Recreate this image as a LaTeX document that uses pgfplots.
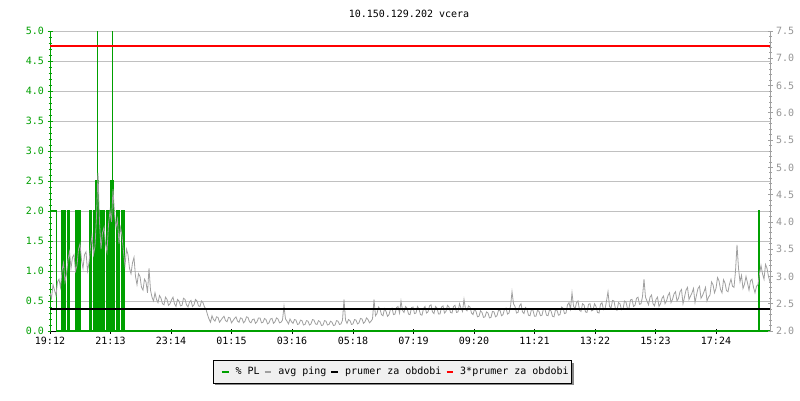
\documentclass[border=0pt]{standalone}
\usepackage{pgfplots}
\pgfplotsset{compat=1.18}
\usepackage{fontspec}
\setmainfont{DejaVu Sans Mono}
\usetikzlibrary{shadows}
\makeatletter
\tikzset{no preactions/.code={\let\tikz@preactions\pgfutil@empty}}
\makeatother
\definecolor{plgreen}{RGB}{0,160,0}
\definecolor{pinggray}{RGB}{160,160,160}
\definecolor{gridgray}{RGB}{192,192,192}
\definecolor{rlabgray}{RGB}{150,150,150}
\definecolor{leggray}{RGB}{240,240,240}
\definecolor{shadowgray}{RGB}{136,136,136}

\pgfplotstableread{
m v
0 0
1.4 2
12.6 0
23.4 2
24.9 0
26.4 2
27.9 0
29.4 2
30.6 0
35.4 2
36.8 0
37.4 2
38.6 0
51.4 2
52.9 0
54.4 2
55.9 0
57.4 2
58.9 0
60 2
61.4 0
78.6 2
80.1 0
81.6 2
83.4 0
86.6 2
88.1 0
89.3 2
90.6 0
92 2.5
93.2 0
93.8 2.5
94.4 6
95.0 2.5
95.8 0
96.4 2
97.4 0
99.4 2
100.9 0
102.4 2
103.9 0
105.4 2
106.7 0
107.3 2
108 0
112.6 2
114.1 0
115.6 2
117.1 0
118.6 2
120.1 0
120.8 2
122 2.5
123.2 0
123.8 2.5
124.4 6
125.0 2.5
125.8 0
126.6 2
128 0
128.6 2
129.4 0
132.6 2
134.1 0
135.6 2
137.1 0
137.8 2
138.6 0
142.6 2
144.1 0
145.6 2
147.1 0
147.6 2
148 0
1417 2
1418.4 0
1440 0
}\pltable

\pgfplotstableread{
m v
0 2.70
3 2.60
6 2.85
9 2.75
12 2.65
15 2.90
18 2.95
21 2.80
24 3.10
27 3.25
30 2.90
33 3.05
36 3.30
39 3.45
42 3.15
45 3.35
48 3.40
51 3.10
54 3.20
57 3.50
60 3.60
63 3.30
66 3.15
69 3.40
72 3.45
75 3.10
78 3.25
81 3.55
84 3.75
87 3.40
90 3.55
93 4.10
96 4.90
99 4.00
102 3.50
105 3.80
108 3.90
111 3.60
114 3.45
117 3.95
120 4.20
123 4.00
126 4.60
129 4.15
132 3.90
135 4.05
138 3.60
141 3.90
144 3.75
147 3.45
150 3.20
153 3.50
156 3.40
159 3.15
162 3.05
165 3.25
168 3.35
171 3.00
174 2.85
177 3.05
180 3.00
183 2.80
186 2.75
189 2.95
192 2.90
195 2.70
198 3.15
201 2.75
204 2.62
207 2.55
210 2.70
213 2.58
216 2.52
219 2.65
222 2.60
225 2.50
228 2.48
231 2.62
234 2.58
237 2.47
240 2.50
243 2.57
246 2.62
249 2.50
252 2.45
255 2.58
258 2.55
261 2.46
264 2.47
267 2.60
270 2.58
273 2.48
276 2.44
279 2.53
282 2.56
285 2.45
288 2.48
291 2.58
294 2.55
297 2.46
300 2.45
303 2.55
306 2.52
309 2.44
312 2.40
315 2.30
318 2.22
321 2.16
324 2.28
327 2.21
330 2.18
333 2.26
336 2.25
339 2.16
342 2.20
345 2.24
348 2.27
351 2.19
354 2.17
357 2.25
360 2.24
363 2.15
366 2.19
369 2.23
372 2.26
375 2.18
378 2.16
381 2.24
384 2.23
387 2.15
390 2.18
393 2.26
396 2.25
399 2.17
402 2.15
405 2.21
408 2.22
411 2.14
414 2.17
417 2.24
420 2.24
423 2.15
426 2.16
429 2.23
432 2.21
435 2.13
438 2.15
441 2.22
444 2.23
447 2.14
450 2.17
453 2.24
456 2.22
459 2.15
462 2.16
465 2.20
468 2.45
471 2.22
474 2.18
477 2.13
480 2.22
483 2.17
486 2.14
489 2.21
492 2.20
495 2.12
498 2.13
501 2.20
504 2.19
507 2.11
510 2.12
513 2.19
516 2.18
519 2.11
522 2.13
525 2.21
528 2.20
531 2.13
534 2.12
537 2.19
540 2.17
543 2.10
546 2.11
549 2.19
552 2.18
555 2.11
558 2.12
561 2.18
564 2.16
567 2.10
570 2.11
573 2.19
576 2.18
579 2.12
582 2.13
585 2.20
588 2.58
591 2.20
594 2.14
597 2.21
600 2.19
603 2.12
606 2.13
609 2.21
612 2.20
615 2.13
618 2.15
621 2.23
624 2.22
627 2.14
630 2.17
633 2.24
636 2.21
639 2.15
642 2.18
645 2.22
648 2.58
651 2.28
654 2.32
657 2.44
660 2.40
663 2.30
666 2.28
669 2.41
672 2.36
675 2.27
678 2.30
681 2.40
684 2.42
687 2.30
690 2.31
693 2.43
696 2.45
699 2.33
702 2.55
705 2.38
708 2.34
711 2.45
714 2.42
717 2.31
720 2.30
723 2.43
726 2.44
729 2.32
732 2.33
735 2.45
738 2.40
741 2.30
744 2.29
747 2.41
750 2.45
753 2.33
756 2.35
759 2.46
762 2.48
765 2.35
768 2.32
771 2.45
774 2.42
777 2.31
780 2.31
783 2.44
786 2.46
789 2.33
792 2.36
795 2.47
798 2.44
801 2.34
804 2.33
807 2.45
810 2.47
813 2.34
816 2.35
819 2.50
822 2.42
825 2.36
828 2.58
831 2.40
834 2.37
837 2.46
840 2.44
843 2.33
846 2.30
849 2.40
852 2.36
855 2.26
858 2.27
861 2.37
864 2.34
867 2.25
870 2.26
873 2.35
876 2.33
879 2.24
882 2.25
885 2.36
888 2.35
891 2.26
894 2.28
897 2.38
900 2.38
903 2.28
906 2.30
909 2.40
912 2.42
915 2.31
918 2.33
921 2.45
924 2.72
927 2.50
930 2.45
933 2.33
936 2.34
939 2.46
942 2.50
945 2.35
948 2.32
951 2.43
954 2.40
957 2.29
960 2.28
963 2.40
966 2.38
969 2.27
972 2.27
975 2.38
978 2.36
981 2.28
984 2.29
987 2.41
990 2.40
993 2.29
996 2.28
999 2.39
1002 2.37
1005 2.27
1008 2.26
1011 2.39
1014 2.38
1017 2.29
1020 2.30
1023 2.44
1026 2.42
1029 2.32
1032 2.33
1035 2.48
1038 2.52
1041 2.40
1044 2.70
1047 2.46
1050 2.40
1053 2.52
1056 2.55
1059 2.38
1062 2.36
1065 2.50
1068 2.48
1071 2.35
1074 2.34
1077 2.49
1080 2.50
1083 2.37
1086 2.38
1089 2.50
1092 2.45
1095 2.34
1098 2.33
1101 2.49
1104 2.52
1107 2.39
1110 2.40
1113 2.55
1116 2.72
1119 2.45
1122 2.42
1125 2.56
1128 2.55
1131 2.40
1134 2.38
1137 2.52
1140 2.50
1143 2.39
1146 2.40
1149 2.55
1152 2.53
1155 2.41
1158 2.42
1161 2.57
1164 2.58
1167 2.45
1170 2.47
1173 2.60
1176 2.62
1179 2.49
1182 2.50
1185 2.63
1188 2.95
1191 2.62
1194 2.55
1197 2.48
1200 2.62
1203 2.66
1206 2.50
1209 2.46
1212 2.58
1215 2.62
1218 2.45
1221 2.50
1224 2.60
1227 2.64
1230 2.50
1233 2.55
1236 2.65
1239 2.70
1242 2.52
1245 2.58
1248 2.68
1251 2.72
1254 2.55
1257 2.60
1260 2.72
1263 2.76
1266 2.50
1269 2.62
1272 2.75
1275 2.80
1278 2.58
1281 2.64
1284 2.70
1287 2.78
1290 2.52
1293 2.66
1296 2.78
1299 2.82
1302 2.60
1305 2.65
1308 2.72
1311 2.80
1314 2.55
1317 2.62
1320 2.66
1323 2.90
1326 2.85
1329 2.70
1332 2.78
1335 2.98
1338 2.92
1341 2.76
1344 2.70
1347 2.94
1350 2.88
1353 2.74
1356 2.72
1359 2.86
1362 2.95
1365 2.82
1368 2.80
1371 3.10
1374 3.58
1377 3.15
1380 2.90
1383 3.02
1386 2.78
1389 2.86
1392 3.00
1395 2.88
1398 2.75
1401 2.92
1404 2.95
1407 2.80
1410 2.70
1413 2.82
1416 2.85
1419 3.05
1422 3.20
1425 3.05
1428 2.95
1431 3.22
1434 3.15
1437 3.00
1440 2.90
}\pingtable

\pgfplotsset{
  common/.style={
    at={(50pt,69pt)}, anchor=south west,
    scale only axis, width=720pt, height=300pt,
    xmin=0, xmax=1440,
    tick align=inside,
    major tick length=5pt, minor tick length=3pt,
    tick label style={font=\fontsize{10}{12}\selectfont},
    /pgf/number format/assume math mode=true,
    /pgf/number format/.cd, fixed, fixed zerofill, precision=1,
  },
}

\begin{document}
\begin{tikzpicture}[x=1pt,y=1pt]
\path[use as bounding box, fill=white] (0,0) rectangle (800,400);
\node[font=\fontsize{10}{12}\selectfont] at (409,386) {10.150.129.202 vcera};

\begin{axis}[common,
  ymin=0, ymax=5,
  axis x line=bottom, axis y line=left,
  x axis line style={-, black, line width=1pt},
  y axis line style={-, plgreen, line width=1pt},
  xtick={0,121,242,363,484,606,727,848,969,1090,1211,1332},
  xticklabels={19:12,21:13,23:14,01:15,03:16,05:18,07:19,09:20,11:21,13:22,15:23,17:24},
  xtick style={black, line width=0.8pt},
  ytick={0,0.5,...,5},
  minor y tick num=4,
  ytick style={plgreen, line width=0.8pt},
  yticklabel style={text=plgreen},
  ymajorgrids,
  major grid style={gridgray, line width=1pt},
]
\addplot[const plot, plgreen, line width=1.2pt] table[x=m, y=v] {\pltable};
\end{axis}

\begin{axis}[common,
  ymin=2, ymax=7.5,
  axis x line=none, axis y line=right,
  y axis line style={-, pinggray, line width=1pt},
  ytick={2,2.5,...,7.5},
  minor y tick num=4,
  ytick style={pinggray, line width=0.8pt},
  yticklabel style={text=rlabgray},
]
\addplot[pinggray, line width=0.8pt] table[x=m, y=v] {\pingtable};
\end{axis}

\begin{axis}[common,
  ymin=0, ymax=5,
  axis lines=none, ticks=none,
  legend columns=4,
  legend style={at={(0.476,-0.0967)}, anchor=north,
    fill=leggray, draw=black, line width=1pt,
    font=\fontsize{10}{12}\selectfont,
    inner xsep=3.4pt, inner ysep=6pt,
    nodes={inner xsep=0pt, inner ysep=0pt, text height=8pt, text depth=2.5pt},
    /tikz/every odd column/.append style={column sep=6pt},
    /tikz/every even column/.append style={column sep=0pt},
    drop shadow={shadow xshift=2pt, shadow yshift=-2pt, fill=shadowgray, opacity=1}},
  legend cell align=left,
  legend image code/.code={\path[no preactions, draw=none, fill=none] (-5pt,-3pt) rectangle (6.7pt,3pt); \draw[no preactions, #1, line width=2pt, fill=none] (0pt,0pt) -- (6.7pt,0pt);},
]
\addlegendimage{plgreen}
\addlegendentry{\% PL}
\addlegendimage{pinggray}
\addlegendentry{avg ping}
\addplot[black, line width=2.5pt] coordinates {(0,0.367) (1440,0.367)};
\addlegendentry{prumer za obdobi}
\addplot[red, line width=1.2pt] coordinates {(0,4.75) (1440,4.75)};
\addlegendentry{3*prumer za obdobi}
\end{axis}
\end{tikzpicture}
\end{document}
